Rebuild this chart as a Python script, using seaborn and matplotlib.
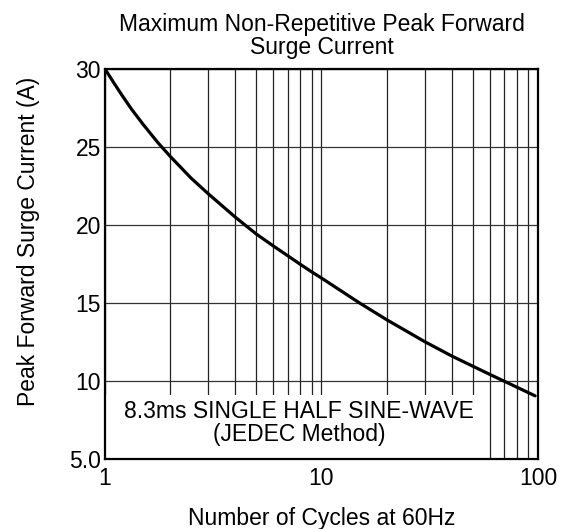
import matplotlib
matplotlib.use("Agg")
import matplotlib.pyplot as plt
from matplotlib.patches import Rectangle
from matplotlib.ticker import FixedLocator, NullFormatter
import seaborn as sns
import pandas as pd

# values
cycles = [1, 1.1, 1.2, 1.33, 1.5, 1.75, 2, 2.5, 3, 4, 5, 6, 7, 8, 9, 10,
          15, 20, 30, 40, 50, 60, 70, 80, 97]
current = [30, 29.1, 28.3, 27.4, 26.45, 25.3, 24.4, 23.0, 22.0, 20.5, 19.42, 18.65, 18.02, 17.47, 17.0, 16.6,
           15.0, 13.93, 12.52, 11.6, 10.95, 10.42, 9.98, 9.6, 9.05]

y_ticks = [5, 10, 15, 20, 25, 30]
y_tick_labels = ["5.0", "10", "15", "20", "25", "30"]
x_ticks = [1, 10, 100]
x_tick_labels = ["1", "10", "100"]

sns.set_style("white")
plt.rcParams["font.family"] = ["Liberation Sans", "DejaVu Sans"]
plt.rcParams.update({"text.color": "black", "axes.labelcolor": "black",
                     "xtick.color": "black", "ytick.color": "black"})

df = pd.DataFrame({"cycles": cycles, "current": current})

fig = plt.figure(figsize=(5.63, 5.29), dpi=100)
ax = fig.add_axes([0.1865, 0.1323, 0.769, 0.7373])

sns.lineplot(data=df, x="cycles", y="current", color="black", lw=2.3, ax=ax, zorder=3)

ax.set_xscale("log")
ax.set_xlim(1, 100)
ax.set_ylim(5, 30)
ax.set_xticks(x_ticks)
ax.set_xticklabels(x_tick_labels, fontsize=16.5)
ax.xaxis.set_minor_locator(FixedLocator([k * d for d in (1, 10) for k in range(2, 10)]))
ax.xaxis.set_minor_formatter(NullFormatter())
ax.set_yticks(y_ticks)
ax.set_yticklabels(y_tick_labels, fontsize=16.5)
ax.tick_params(axis="y", which="both", length=0, pad=3)
ax.tick_params(axis="x", which="both", length=0, pad=6)

ax.set_axisbelow(True)
ax.grid(which="both", axis="x", color="#222222", lw=0.9)
ax.grid(which="major", axis="y", color="#333333", lw=0.9)

for s in ax.spines.values():
    s.set_color("black")
    s.set_linewidth(1.6)
    s.set_zorder(4)

# white box behind the note, covering the grid
ax.add_patch(Rectangle((0, 0), 0.878, 0.164, transform=ax.transAxes,
                       facecolor="white", edgecolor="none", zorder=2))
ax.text(0.448, 0.092, "8.3ms SINGLE HALF SINE-WAVE\n(JEDEC Method)",
        transform=ax.transAxes, ha="center", va="center", fontsize=16.5,
        linespacing=1.0, zorder=3)

ax.set_title("Maximum Non-Repetitive Peak Forward\nSurge Current", fontsize=16.5, pad=11,
             linespacing=1.0)
ax.set_xlabel("Number of Cycles at 60Hz", fontsize=16.5, labelpad=12)
ax.set_ylabel("Peak Forward Surge Current (A)", fontsize=16.5)
ax.yaxis.set_label_coords(-0.151, 0.558)

fig.savefig("out.png", dpi=100, facecolor="white")
